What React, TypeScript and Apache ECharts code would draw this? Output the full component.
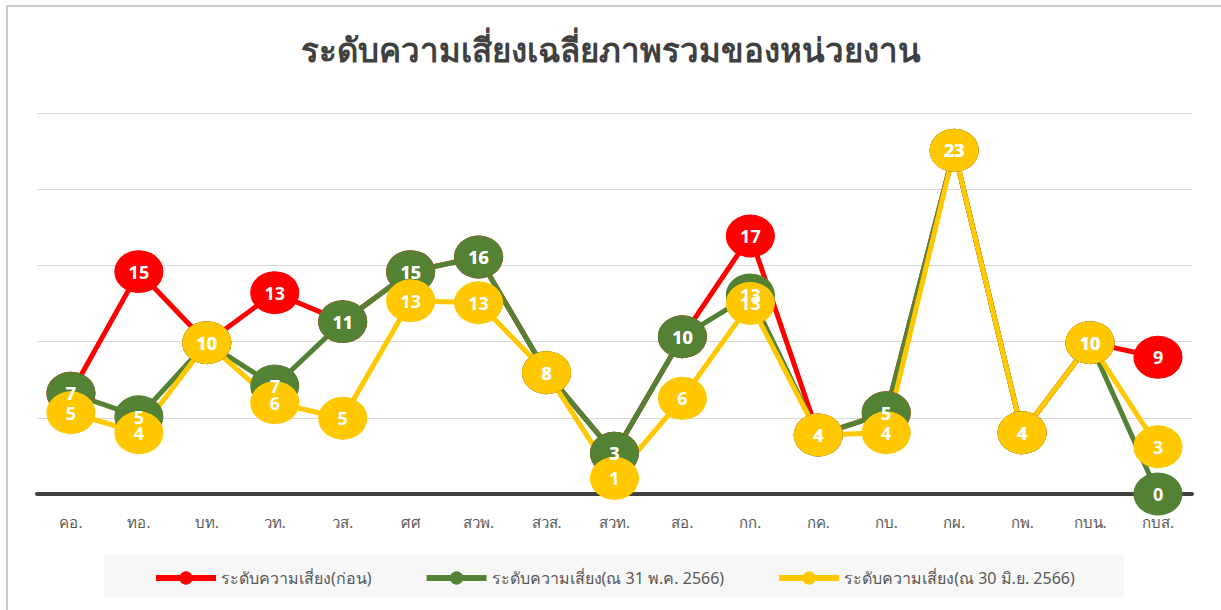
import React, { useEffect, useRef } from "react";
import * as echarts from "echarts";

const categories = ["คอ.", "ทอ.", "บท.", "วท.", "วส.", "ศศ", "สวพ.", "สวส.", "สวท.", "สอ.", "กก.", "กค.", "กบ.", "กผ.", "กพ.", "กบน.", "กบส."];
const seriesNames = ["ระดับความเสี่ยง(ก่อน)", "ระดับความเสี่ยง(ณ 31 พ.ค. 2566)", "ระดับความเสี่ยง(ณ 30 มิ.ย. 2566)"];
const before = [6.61, 14.59, 9.93, 13.21, 11.31, 14.59, 15.55, 7.96, 2.67, 10.32, 16.93, 3.87, 5.33, 22.55, 4.02, 9.93, 8.97];
const may31 = [6.61, 5.07, 9.93, 7.09, 11.31, 14.59, 15.55, 7.96, 2.67, 10.32, 13.06, 3.87, 5.33, 22.55, 4.02, 9.93, 0];
const jun30 = [5.33, 4.02, 9.93, 5.99, 4.97, 12.68, 12.55, 7.96, 1.03, 6.28, 12.51, 3.87, 4.02, 22.55, 4.02, 9.93, 3.1];
const colors = ["#ff0000", "#548235", "#ffc800"];
const yTicks = { min: 0, max: 25, interval: 5 };

const FONT = "'Noto Sans', 'DejaVu Sans', sans-serif";

export default function App() {
  const ref = useRef<HTMLDivElement>(null);
  useEffect(() => {
    if (!ref.current) return;
    const chart = echarts.init(ref.current, undefined, { renderer: "svg" });
    const datasets = [before, may31, jun30];
    chart.setOption({
      animation: false,
      backgroundColor: "#ffffff",
      textStyle: { fontFamily: FONT },
      title: {
        text: "ระดับความเสี่ยงเฉลี่ยภาพรวมของหน่วยงาน",
        left: "center",
        top: 28,
        textStyle: { fontSize: 33, fontWeight: "bold", color: "#404040", fontFamily: FONT },
      },
      graphic: [
        { type: "rect", shape: { x: 7, y: 6, width: 1240, height: 640 }, style: { fill: "none", stroke: "#c9c9c9", lineWidth: 2 }, z: -1 },
        { type: "rect", shape: { x: 104, y: 555, width: 1020, height: 43 }, style: { fill: "#f7f7f7" }, z: -1 },
      ],
      legend: {
        left: 153,
        top: 570,
        padding: 0,
        itemWidth: 60,
        itemHeight: 14,
        itemGap: 52,
        lineStyle: { width: 6 },
        textStyle: { fontSize: 16, color: "#595959", fontFamily: FONT },
        data: seriesNames,
      },
      grid: { left: 37, right: 29, top: 113, bottom: 116 },
      xAxis: {
        type: "category",
        data: categories,
        axisLine: { lineStyle: { color: "#404040", width: 4 } },
        axisTick: { show: false },
        axisLabel: { color: "#595959", fontSize: 15, margin: 20, fontFamily: FONT },
      },
      yAxis: {
        type: "value",
        min: yTicks.min,
        max: yTicks.max,
        interval: yTicks.interval,
        axisLabel: { show: false },
        axisLine: { show: false },
        axisTick: { show: false },
        splitLine: { lineStyle: { color: "#d9d9d9", width: 1 } },
      },
      series: seriesNames.map((name, i) => ({
        name,
        type: "line",
        data: datasets[i],
        symbol: "circle",
        symbolSize: [48, 42],
        lineStyle: { color: colors[i], width: 5 },
        itemStyle: { color: colors[i], borderColor: colors[i], borderWidth: 1 },
        label: {
          show: true,
          position: "inside",
          color: "#ffffff",
          fontSize: 18,
          fontWeight: "bold",
          fontFamily: FONT,
          formatter: (p: any) => String(Math.round(p.value)),
        },
      })),
    });
    return () => chart.dispose();
  }, []);
  return <div ref={ref} style={{ position: "absolute", left: 0, top: 0, width: 1221, height: 610 }} />;
}
